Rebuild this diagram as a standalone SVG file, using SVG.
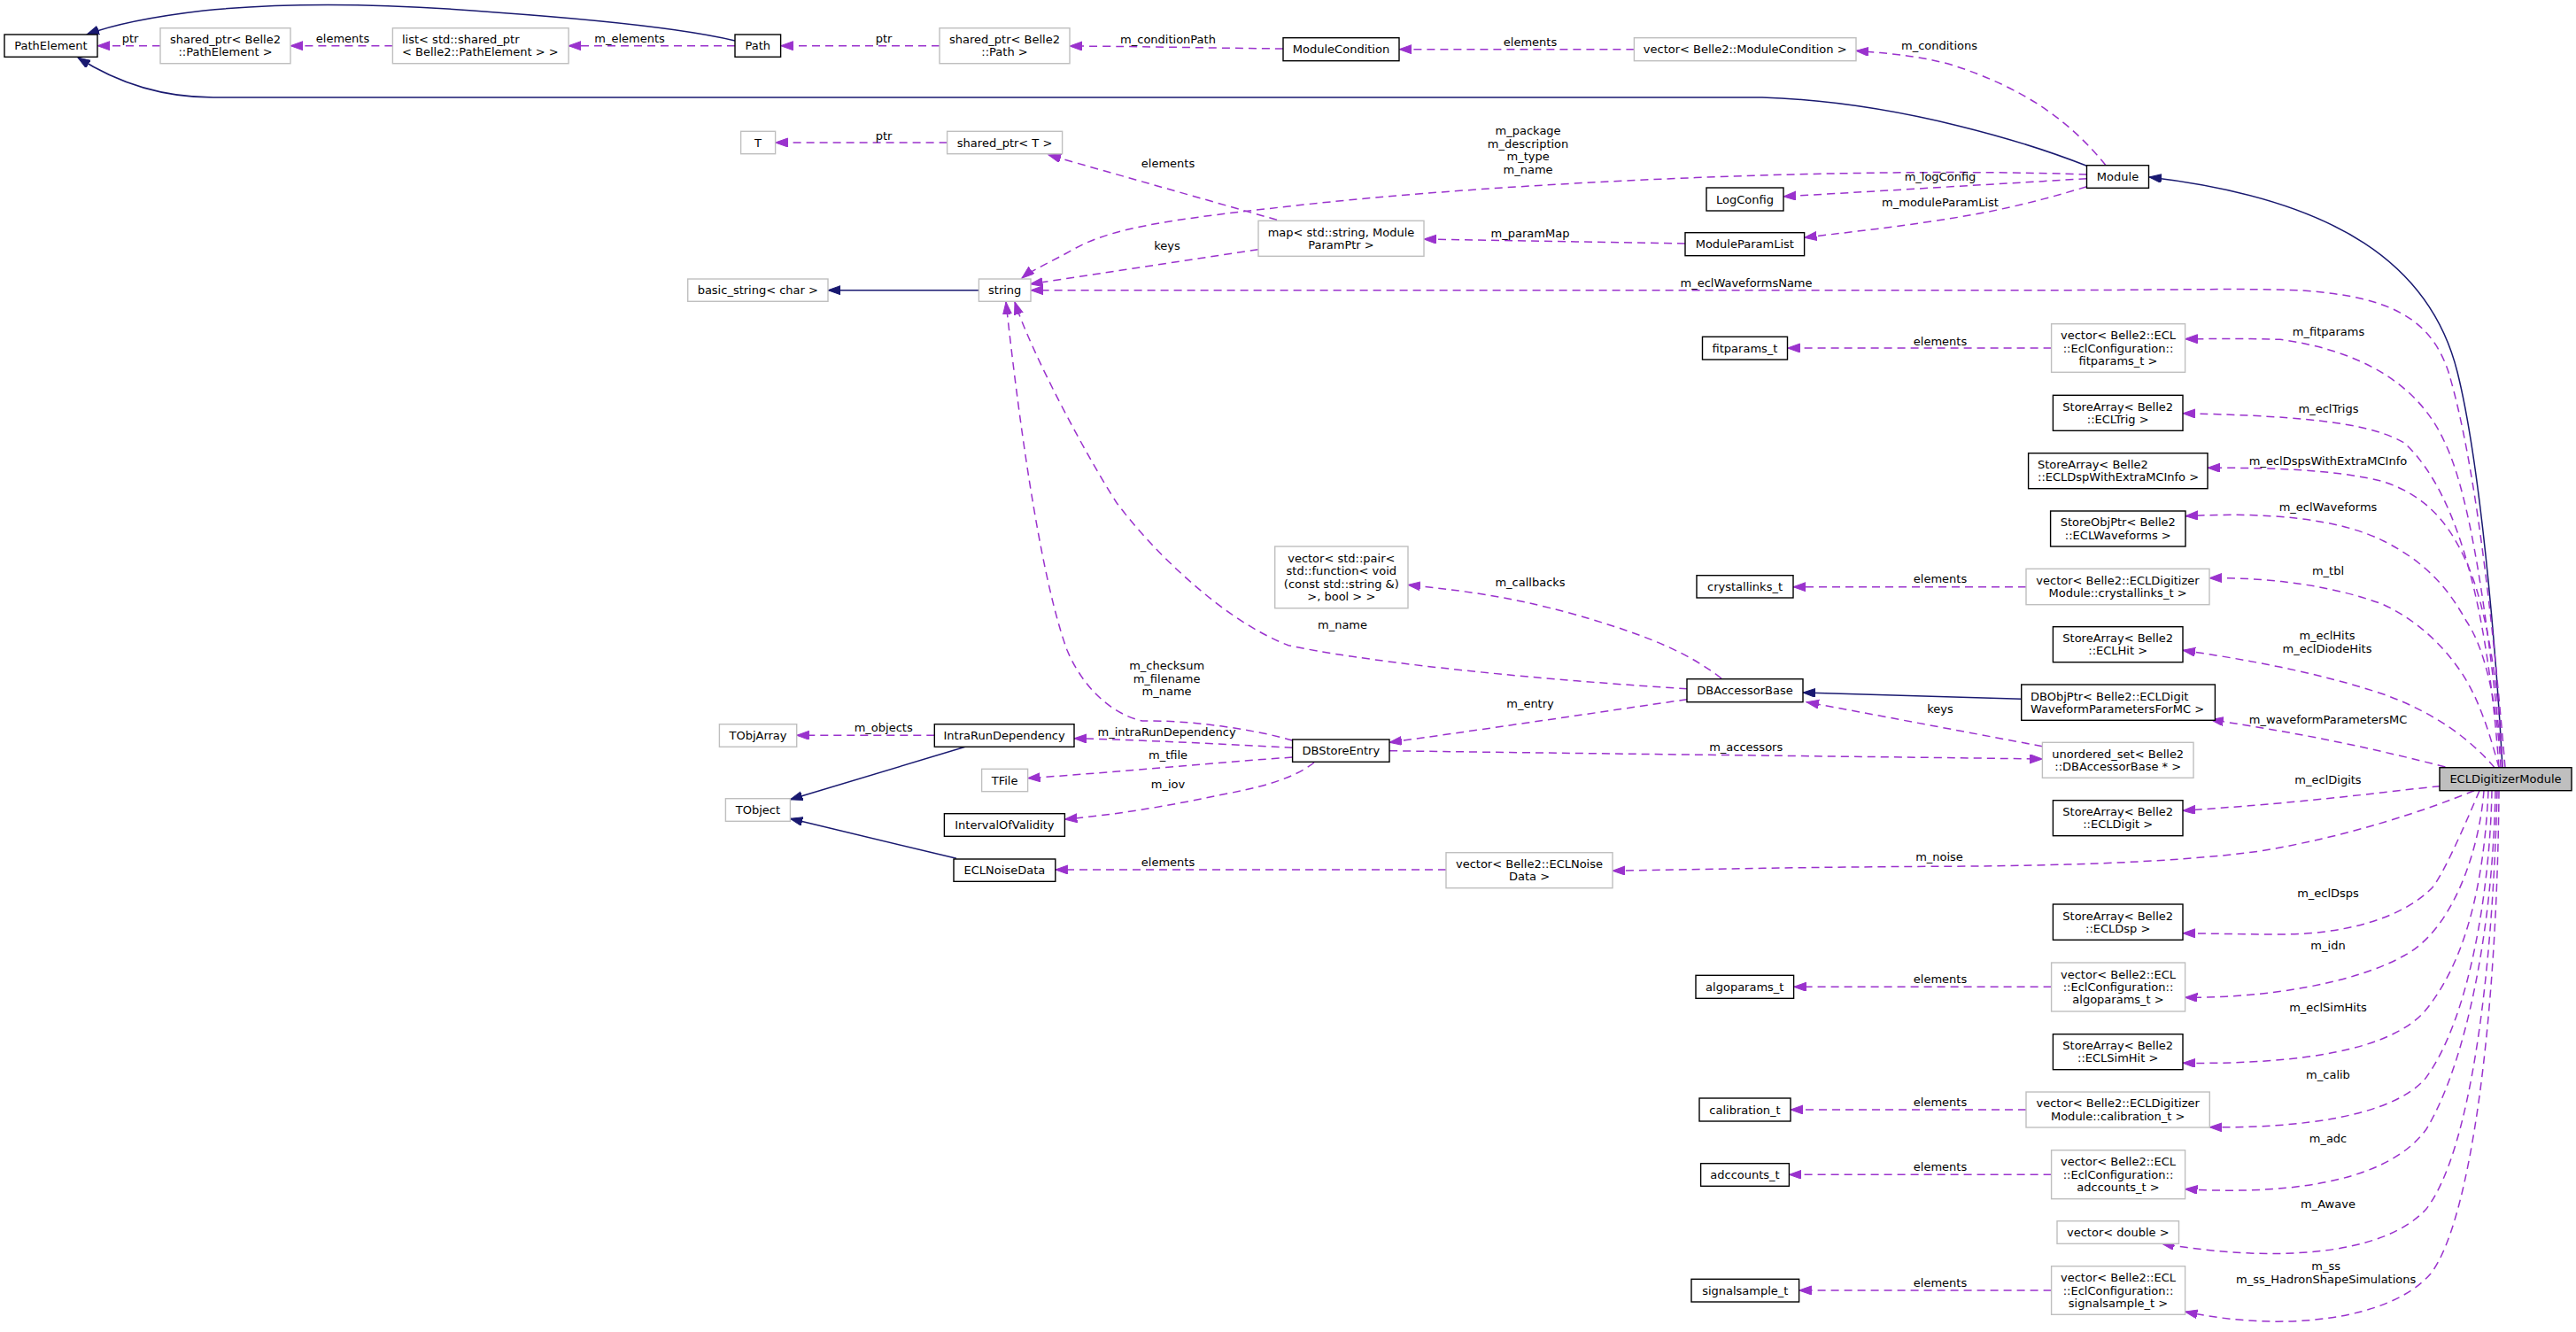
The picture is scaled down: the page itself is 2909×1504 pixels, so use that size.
<svg xmlns="http://www.w3.org/2000/svg" width="2909" height="1504" viewBox="0 0 2909 1504">
<defs>
<marker id="ap" markerUnits="userSpaceOnUse" markerWidth="16" markerHeight="12" refX="14" refY="5" orient="auto"><path d="M0,0 L14,5 L0,10 z" fill="#9a32cd" stroke="#9a32cd" stroke-width="1"/></marker>
<marker id="ab" markerUnits="userSpaceOnUse" markerWidth="16" markerHeight="12" refX="14" refY="5" orient="auto"><path d="M0,0 L14,5 L0,10 z" fill="#191970" stroke="#191970" stroke-width="1"/></marker>
<style>
text{font-family:"DejaVu Sans","Liberation Sans",sans-serif;font-size:13px;fill:#000;text-anchor:middle;dominant-baseline:central}
text.l{text-anchor:start}
.n rect{fill:#fff;stroke:#000;stroke-width:1.4}
.g rect{fill:#fff;stroke:#bfbfbf;stroke-width:1.4}
.m rect{fill:#bfbfbf;stroke:#000;stroke-width:1.4}
.e path{fill:none;stroke:#9a32cd;stroke-width:1.5;stroke-dasharray:9,6;marker-end:url(#ap)}
.i path{fill:none;stroke:#191970;stroke-width:1.5;marker-end:url(#ab)}
</style>
</defs>
<rect x="0" y="0" width="2909" height="1504" fill="#fff"/>

<g id="connectors">
<g class="i">
<path d="M830,46 C780,34 700,24 560,14 C450,5 330,2 230,12 C170,19 130,27 98,39"/>
<path d="M2356.5,187.3 C2300,165 2150,115 1990,110 L241,110 C180,110 130,92 88,65"/>
<path d="M1105,327.7 L935,327.7"/>
<path d="M2826,866.7 C2818,720 2800,520 2775,420 C2745,300 2640,225 2427,200"/>
<path d="M2282.7,789.3 L2036,782"/>
<path d="M1090,843.3 L892.3,902.7"/>
<path d="M1080,969.3 L892.3,924.3"/>
</g>
<g class="e">
<path d="M181,51.7 L110,51.7"/>
<path d="M443.4,51.7 L328,51.7"/>
<path d="M830,51.7 L642,51.7"/>
<path d="M1061,51.7 L881.6,51.7"/>
<path d="M1449,55 C1350,54 1300,52.5 1208,52"/>
<path d="M1845.4,55.7 L1580,55.7"/>
<path d="M2378,186.7 C2340,140 2290,100 2200,72 C2160,62 2130,60 2096,57.3"/>
<path d="M1069.6,161 L875.6,161"/>
<path d="M1442,248.3 L1184,175"/>
<path d="M1420.7,281.7 L1163.4,320.7"/>
<path d="M2356.5,197 C2100,188 1700,205 1455,233 C1340,246 1260,255 1215,280 C1185,297 1165,305 1154,314"/>
<path d="M2356.5,201.7 C2250,208 2150,214 2014,222"/>
<path d="M2356.5,210.7 C2300,228 2250,240 2181,250 C2120,259 2080,263 2037.6,268.3"/>
<path d="M1903,275 L1608,270"/>
<path d="M2829,866.7 C2815,700 2795,520 2765,420 C2745,360 2700,335 2600,328 C2540,325 2450,327.7 2300,327.7 L1164,327.7"/>
<path d="M2316.6,393 L2018.6,393"/>
<path d="M2826,866.7 C2810,700 2790,560 2761,500 C2730,430 2660,395 2575,383.3 C2530,382 2500,382.7 2467.5,382.7"/>
<path d="M2822,866.7 C2810,700 2780,560 2715,500 C2680,480 2620,470 2465,466.7"/>
<path d="M2826,866.7 C2822,780 2810,690 2785,634 C2765,590 2740,560 2692,544 C2640,530 2560,528 2493,528.3"/>
<path d="M2824,866.7 C2820,790 2805,730 2785,701 C2765,665 2740,635 2692,611 C2640,585 2560,578 2468,582.7"/>
<path d="M2288,662.7 L2025,662.7"/>
<path d="M2822,866.7 C2812,830 2800,790 2780,760 C2760,730 2730,700 2690,682 C2630,660 2560,652 2495,652.7"/>
<path d="M2817,866.7 C2790,835 2750,805 2692,784 C2620,760 2540,745 2465,734.3"/>
<path d="M2761.4,866 C2680,845 2600,828 2496.7,812.7"/>
<path d="M2306.4,842.7 L2040,792.7"/>
<path d="M1569,847.7 C1800,851 2000,853 2306.4,857"/>
<path d="M1944,766 C1910,740 1870,720 1779,694 C1700,672 1650,667 1590,660.3"/>
<path d="M1905.3,777.7 C1700,765 1530,745 1455,728.7 C1380,700 1300,620 1261,567.7 C1230,520 1165,400 1146,341"/>
<path d="M1905.3,789.7 C1800,805 1700,820 1569,838.3"/>
<path d="M1459.6,836 C1410,822 1340,813 1290,814 C1250,805 1220,770 1205,734 C1185,680 1160,560 1136,341"/>
<path d="M1459.6,844.3 C1380,840 1300,836 1213,833.7"/>
<path d="M1459.6,855 C1360,862 1260,872 1160.6,878.7"/>
<path d="M1484,861 C1460,880 1420,890 1377,897.7 C1320,910 1260,920 1202.4,925"/>
<path d="M1055.3,830.3 L899.7,830.3"/>
<path d="M1633,982 L1191.8,982"/>
<path d="M2794,892.7 C2740,915 2650,945 2552,961 C2450,975 2300,978 2182,978.3 C2050,979 1950,981 1821,983.3"/>
<path d="M2755.3,887.7 C2700,893 2620,905 2465,915.3"/>
<path d="M2800,892.7 C2780,940 2760,985 2747,1002 C2710,1040 2640,1055 2576,1055 C2530,1055 2500,1054 2465,1053.7"/>
<path d="M2316.6,1114.3 L2025.6,1114.3"/>
<path d="M2805,892.7 C2800,960 2770,1050 2715,1079 C2660,1110 2560,1127 2467.5,1126.3"/>
<path d="M2810,892.7 C2806,980 2790,1080 2738,1142 C2700,1185 2600,1202 2465,1200.3"/>
<path d="M2288,1253 L2022,1253"/>
<path d="M2814,892.7 C2812,1000 2790,1150 2738,1219 C2700,1260 2600,1274 2495.3,1272.7"/>
<path d="M2316.6,1326.3 L2020.4,1326.3"/>
<path d="M2818,892.7 C2815,1050 2785,1200 2740,1275 C2700,1330 2600,1350 2467.5,1342.7"/>
<path d="M2820,892.7 C2815,1100 2790,1300 2740,1365 C2690,1420 2560,1425 2441,1404"/>
<path d="M2316.6,1457 L2031.6,1457"/>
<path d="M2822,892.7 C2820,1150 2790,1380 2745,1438 C2700,1490 2580,1505 2467.5,1481"/>
</g>
<g id="edge-labels">
<text x="147" y="43.3">ptr</text>
<text x="387" y="43.3">elements</text>
<text x="711" y="43.3">m_elements</text>
<text x="998" y="43.3">ptr</text>
<text x="1319" y="44.3">m_conditionPath</text>
<text x="1728" y="47.7">elements</text>
<text x="2190" y="51.7">m_conditions</text>
<text x="998" y="153">ptr</text>
<text x="1319" y="184.3">elements</text>
<text x="1318" y="277.7">keys</text>
<text x="1725.6" y="147.7">m_package</text>
<text x="1725.6" y="162.2">m_description</text>
<text x="1725.6" y="176.7">m_type</text>
<text x="1725.6" y="191.2">m_name</text>
<text x="2191" y="199.3">m_logConfig</text>
<text x="2191" y="228.3">m_moduleParamList</text>
<text x="1728" y="263.3">m_paramMap</text>
<text x="1972" y="319.3">m_eclWaveformsName</text>
<text x="2191" y="385">elements</text>
<text x="2629.5" y="374">m_fitparams</text>
<text x="2629.5" y="461">m_eclTrigs</text>
<text x="2629" y="520.3">m_eclDspsWithExtraMCInfo</text>
<text x="2629" y="572.7">m_eclWaveforms</text>
<text x="2191" y="653.7">elements</text>
<text x="2629" y="644.3">m_tbl</text>
<text x="1728" y="657.7">m_callbacks</text>
<text x="1516" y="705.7">m_name</text>
<text x="2628" y="717.7">m_eclHits</text>
<text x="2628" y="732.7">m_eclDiodeHits</text>
<text x="1317.6" y="751.7">m_checksum</text>
<text x="1317.6" y="766.2">m_filename</text>
<text x="1317.6" y="780.7">m_name</text>
<text x="1728" y="794.3">m_entry</text>
<text x="2191" y="800">keys</text>
<text x="2629" y="812.7">m_waveformParametersMC</text>
<text x="997.7" y="821.7">m_objects</text>
<text x="1317.6" y="826">m_intraRunDependency</text>
<text x="1971.7" y="843.7">m_accessors</text>
<text x="1319" y="852.7">m_tfile</text>
<text x="2629" y="880.3">m_eclDigits</text>
<text x="1319" y="885">m_iov</text>
<text x="2190" y="967.7">m_noise</text>
<text x="1319" y="973.7">elements</text>
<text x="2629" y="1008">m_eclDsps</text>
<text x="2629" y="1067.7">m_idn</text>
<text x="2191" y="1105.7">elements</text>
<text x="2629" y="1137.7">m_eclSimHits</text>
<text x="2629" y="1213.7">m_calib</text>
<text x="2191" y="1244.7">elements</text>
<text x="2629" y="1285.7">m_adc</text>
<text x="2191" y="1317.7">elements</text>
<text x="2629" y="1359.7">m_Awave</text>
<text x="2626.7" y="1429.7">m_ss</text>
<text x="2626.7" y="1444.7">m_ss_HadronShapeSimulations</text>
<text x="2191" y="1448.7">elements</text>
</g>
</g>

<g id="node-PathElement" class="n"><rect x="5" y="39" width="105" height="25.3"/><text x="57.5" y="51.7">PathElement</text></g>
<g id="node-shared_ptr_PathElement" class="g"><rect x="181" y="31.7" width="147" height="40"/><text x="254.5" y="44.5">shared_ptr&lt; Belle2</text><text x="254.5" y="58.9">::PathElement &gt;</text></g>
<g id="node-list_shared_ptr" class="g"><rect x="443.4" y="31.7" width="198.7" height="40"/><text class="l" x="454" y="44.5">list&lt; std::shared_ptr</text><text class="l" x="454" y="58.9">&lt; Belle2::PathElement &gt; &gt;</text></g>
<g id="node-Path" class="n"><rect x="830" y="39" width="51.6" height="25.3"/><text x="855.8" y="51.7">Path</text></g>
<g id="node-shared_ptr_Path" class="g"><rect x="1061" y="31.7" width="147" height="40"/><text x="1134.5" y="44.5">shared_ptr&lt; Belle2</text><text x="1134.5" y="58.9">::Path &gt;</text></g>
<g id="node-ModuleCondition" class="n"><rect x="1449" y="42.7" width="131" height="26"/><text x="1514.5" y="55.7">ModuleCondition</text></g>
<g id="node-vector_ModuleCondition" class="g"><rect x="1845.4" y="42.7" width="250.6" height="26"/><text x="1970.7" y="55.7">vector&lt; Belle2::ModuleCondition &gt;</text></g>
<g id="node-Module" class="n"><rect x="2356.5" y="186.7" width="70" height="25.6"/><text x="2391.5" y="199.5">Module</text></g>
<g id="node-T" class="g"><rect x="836.6" y="148.3" width="39" height="25.4"/><text x="856.1" y="161">T</text></g>
<g id="node-shared_ptr_T" class="g"><rect x="1069.6" y="148.3" width="130" height="25.4"/><text x="1134.6" y="161">shared_ptr&lt; T &gt;</text></g>
<g id="node-map_ModuleParamPtr" class="g"><rect x="1421" y="249.3" width="187" height="40"/><text x="1514.5" y="262.1">map&lt; std::string, Module</text><text x="1514.5" y="276.5">ParamPtr &gt;</text></g>
<g id="node-LogConfig" class="n"><rect x="1927" y="212" width="87" height="26"/><text x="1970.5" y="225">LogConfig</text></g>
<g id="node-ModuleParamList" class="n"><rect x="1903" y="262.7" width="134.6" height="26"/><text x="1970.3" y="275.7">ModuleParamList</text></g>
<g id="node-basic_string" class="g"><rect x="776.7" y="315" width="158.3" height="25.3"/><text x="855.8" y="327.7">basic_string&lt; char &gt;</text></g>
<g id="node-string" class="g"><rect x="1105.4" y="315" width="58.6" height="25.3"/><text x="1134.7" y="327.7">string</text></g>
<g id="node-fitparams_t" class="n"><rect x="1922.5" y="380.3" width="96" height="25.7"/><text x="1970.5" y="393.2">fitparams_t</text></g>
<g id="node-vector_fitparams" class="g"><rect x="2316.6" y="365.7" width="151" height="54.6"/><text x="2392" y="378.7">vector&lt; Belle2::ECL</text><text x="2392" y="393">::EclConfiguration::</text><text x="2392" y="407.3">fitparams_t &gt;</text></g>
<g id="node-StoreArray_ECLTrig" class="n"><rect x="2318.4" y="446.3" width="146.6" height="40"/><text x="2391.7" y="459.1">StoreArray&lt; Belle2</text><text x="2391.7" y="473.5">::ECLTrig &gt;</text></g>
<g id="node-StoreArray_ECLDspWithExtraMCInfo" class="n"><rect x="2290.6" y="511.7" width="202.4" height="40"/><text class="l" x="2301" y="524.5">StoreArray&lt; Belle2</text><text class="l" x="2301" y="538.9">::ECLDspWithExtraMCInfo &gt;</text></g>
<g id="node-StoreObjPtr_ECLWaveforms" class="n"><rect x="2315.6" y="577" width="152.4" height="40"/><text x="2391.8" y="589.8">StoreObjPtr&lt; Belle2</text><text x="2391.8" y="604.2">::ECLWaveforms &gt;</text></g>
<g id="node-crystallinks_t" class="n"><rect x="1916" y="649.7" width="109" height="25.3"/><text x="1970.5" y="662.3">crystallinks_t</text></g>
<g id="node-vector_crystallinks" class="g"><rect x="2288" y="642.3" width="207" height="40.4"/><text x="2391.5" y="655.3">vector&lt; Belle2::ECLDigitizer</text><text x="2391.5" y="669.7">Module::crystallinks_t &gt;</text></g>
<g id="node-vector_pair_callbacks" class="g"><rect x="1439.7" y="617" width="150.3" height="69.7"/><text x="1514.8" y="630.1">vector&lt; std::pair&lt;</text><text x="1514.8" y="644.6">std::function&lt; void</text><text x="1514.8" y="659.1">(const std::string &amp;)</text><text x="1514.8" y="673.6">&gt;, bool &gt; &gt;</text></g>
<g id="node-StoreArray_ECLHit" class="n"><rect x="2318.4" y="707.7" width="146.6" height="40"/><text x="2391.7" y="720.5">StoreArray&lt; Belle2</text><text x="2391.7" y="734.9">::ECLHit &gt;</text></g>
<g id="node-DBAccessorBase" class="n"><rect x="1905" y="766.7" width="131" height="26"/><text x="1970.5" y="779.7">DBAccessorBase</text></g>
<g id="node-DBObjPtr" class="n"><rect x="2282.7" y="773" width="218.7" height="40.3"/><text class="l" x="2293" y="786">DBObjPtr&lt; Belle2::ECLDigit</text><text class="l" x="2293" y="800.4">WaveformParametersForMC &gt;</text></g>
<g id="node-TObjArray" class="g"><rect x="812.4" y="817.7" width="87.3" height="25.6"/><text x="856" y="830.5">TObjArray</text></g>
<g id="node-IntraRunDependency" class="n"><rect x="1055.3" y="817.7" width="157.7" height="25.6"/><text x="1134.1" y="830.5">IntraRunDependency</text></g>
<g id="node-DBStoreEntry" class="n"><rect x="1459.6" y="835" width="109.4" height="25.3"/><text x="1514.3" y="847.7">DBStoreEntry</text></g>
<g id="node-unordered_set" class="g"><rect x="2306.4" y="838.3" width="170.6" height="40"/><text x="2391.7" y="851.1">unordered_set&lt; Belle2</text><text x="2391.7" y="865.5">::DBAccessorBase * &gt;</text></g>
<g id="node-ECLDigitizerModule" class="m"><rect x="2755" y="866.7" width="149" height="26"/><text x="2829.5" y="879.7">ECLDigitizerModule</text></g>
<g id="node-TFile" class="g"><rect x="1108.6" y="868.3" width="52" height="25.4"/><text x="1134.6" y="881">TFile</text></g>
<g id="node-TObject" class="g"><rect x="819.4" y="901.7" width="73" height="25.6"/><text x="855.9" y="914.5">TObject</text></g>
<g id="node-StoreArray_ECLDigit" class="n"><rect x="2318.4" y="903.7" width="146.6" height="40"/><text x="2391.7" y="916.5">StoreArray&lt; Belle2</text><text x="2391.7" y="930.9">::ECLDigit &gt;</text></g>
<g id="node-IntervalOfValidity" class="n"><rect x="1066.4" y="918.7" width="136" height="25.6"/><text x="1134.4" y="931.5">IntervalOfValidity</text></g>
<g id="node-ECLNoiseData" class="n"><rect x="1077" y="970" width="114.8" height="25.3"/><text x="1134.4" y="982.7">ECLNoiseData</text></g>
<g id="node-vector_ECLNoiseData" class="g"><rect x="1633" y="962.7" width="188" height="40"/><text x="1727" y="975.5">vector&lt; Belle2::ECLNoise</text><text x="1727" y="989.9">Data &gt;</text></g>
<g id="node-StoreArray_ECLDsp" class="n"><rect x="2318.4" y="1021" width="146.6" height="40.3"/><text x="2391.7" y="1034">StoreArray&lt; Belle2</text><text x="2391.7" y="1048.4">::ECLDsp &gt;</text></g>
<g id="node-algoparams_t" class="n"><rect x="1915" y="1101.3" width="110.6" height="26"/><text x="1970.3" y="1114.3">algoparams_t</text></g>
<g id="node-vector_algoparams" class="g"><rect x="2316.6" y="1087" width="151" height="55"/><text x="2392" y="1100.2">vector&lt; Belle2::ECL</text><text x="2392" y="1114.5">::EclConfiguration::</text><text x="2392" y="1128.8">algoparams_t &gt;</text></g>
<g id="node-StoreArray_ECLSimHit" class="n"><rect x="2318.4" y="1167.7" width="146.6" height="40"/><text x="2391.7" y="1180.5">StoreArray&lt; Belle2</text><text x="2391.7" y="1194.9">::ECLSimHit &gt;</text></g>
<g id="node-calibration_t" class="n"><rect x="1919" y="1240" width="103" height="26"/><text x="1970.5" y="1253">calibration_t</text></g>
<g id="node-vector_calibration" class="g"><rect x="2288" y="1233" width="207.3" height="40"/><text x="2391.7" y="1245.8">vector&lt; Belle2::ECLDigitizer</text><text x="2391.7" y="1260.2">Module::calibration_t &gt;</text></g>
<g id="node-adccounts_t" class="n"><rect x="1920.6" y="1313.7" width="99.8" height="25.6"/><text x="1970.5" y="1326.5">adccounts_t</text></g>
<g id="node-vector_adccounts" class="g"><rect x="2316.6" y="1298.7" width="151" height="55"/><text x="2392" y="1311.9">vector&lt; Belle2::ECL</text><text x="2392" y="1326.2">::EclConfiguration::</text><text x="2392" y="1340.5">adccounts_t &gt;</text></g>
<g id="node-vector_double" class="g"><rect x="2323" y="1378.7" width="137.5" height="25.6"/><text x="2391.8" y="1391.5">vector&lt; double &gt;</text></g>
<g id="node-signalsample_t" class="n"><rect x="1910" y="1444.3" width="121.6" height="25.7"/><text x="1970.8" y="1457.2">signalsample_t</text></g>
<g id="node-vector_signalsample" class="g"><rect x="2316.6" y="1429.7" width="151" height="54.6"/><text x="2392" y="1442.7">vector&lt; Belle2::ECL</text><text x="2392" y="1457">::EclConfiguration::</text><text x="2392" y="1471.3">signalsample_t &gt;</text></g>
</svg>
